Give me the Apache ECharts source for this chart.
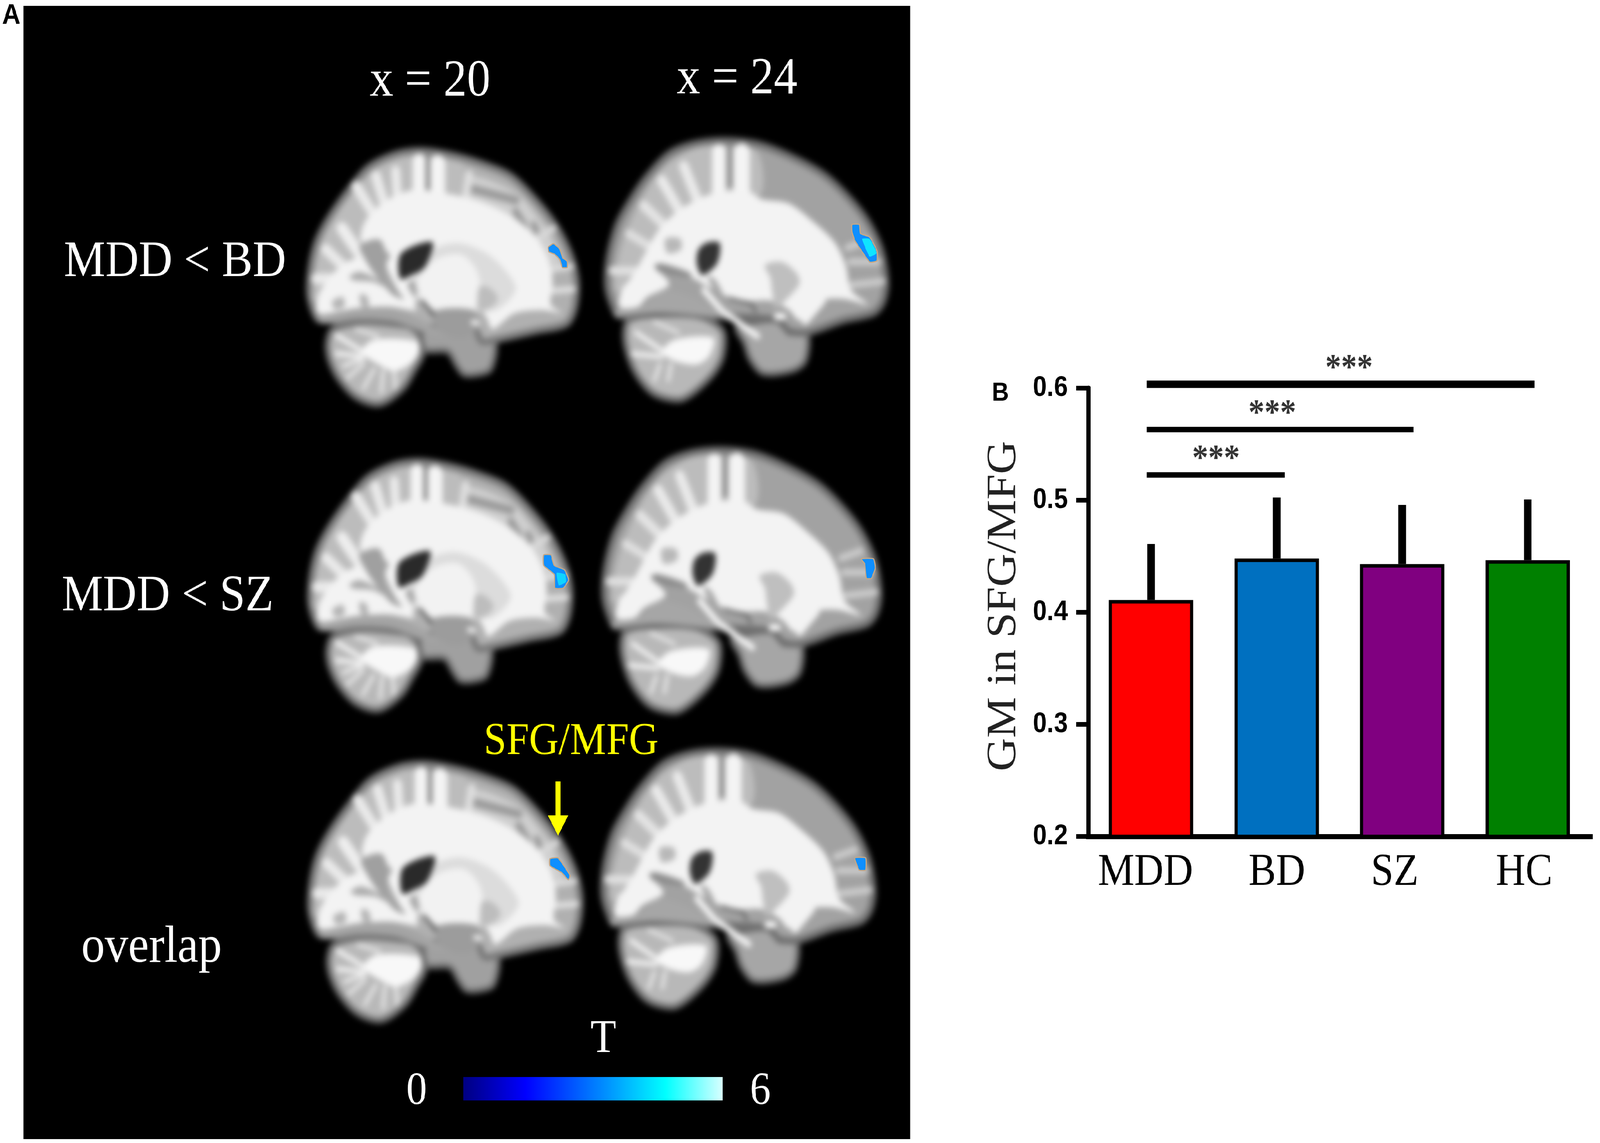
<!DOCTYPE html>
<html>
<head>
<meta charset="utf-8">
<title>GM in SFG/MFG</title>
<script src="https://cdn.jsdelivr.net/npm/echarts@6/dist/echarts.min.js"></script>
<style>
html,body{margin:0;padding:0;background:#fff;overflow:hidden}
#page{position:relative;width:4550px;height:2927px;transform-origin:0 0}
#panel{position:absolute;left:67px;top:15px;width:2521px;height:2902px;background:#000;overflow:hidden}
#brains{position:absolute;left:-67px;top:-15px;width:4550px;height:2927px;filter:blur(8px)}
#main{position:absolute;left:0;top:0;width:4550px;height:2927px}
</style>
</head>
<body>
<div id="page">
  <div id="panel"><div id="brains"></div></div>
  <div id="main"></div>
</div>
<script>
// the browser window can come out narrower than the 4550 asked for, squeeze to fit
document.getElementById('page').style.transform = 'scaleX(' + (window.innerWidth / 4550) + ')';

// bar chart values
var groups = ['MDD', 'BD', 'SZ', 'HC'];
var gmMean = [0.411, 0.448, 0.443, 0.4465];
var gmUpper = [0.461, 0.5024, 0.4958, 0.5007];
var barColors = ['#ff0000', '#0070c0', '#800080', '#008000'];
var yTicks = [0.2, 0.3, 0.4, 0.5, 0.6];
// significance lines: from, to (in category units), height
var sigFrom = [-0.036, -0.036, -0.036];
var sigTo = [3.053, 2.09, 1.064];
var sigY = [0.6035, 0.5631, 0.5226];
var sigWidth = [19, 14, 14];
var sigStarX = [1.576, 0.965, 0.517];

var serif = '"Liberation Serif"';
var sans = '"Liberation Sans"';

// brain slices. layer: [colour, kind, line width, points, rim colour]
var brainLeft = { bounds: [35, 1530, 35, 1495], layers: [
  ['#a0a0a0', 'p', 14, [[700,1050],[960,1040],[990,1100],[1075,1140],[1050,1290],[980,1320],[900,1320],[860,1270],[810,1190],[680,1180],[660,1100]], '#6a6a6a'],
  ['#b8b8b8', 'p', 16, [[140,1140],[170,1060],[350,1020],[560,1030],[650,1090],[670,1200],[620,1300],[560,1400],[430,1490],[300,1450],[200,1340],[150,1230]], '#707070'],
  ['#f4f4f4', 'l', 12, [[340,1190],[190,1095]]],
  ['#f4f4f4', 'l', 12, [[330,1215],[190,1200]]],
  ['#f0f0f0', 'l', 10, [[340,1230],[230,1270]]],
  ['#e4e4e4', 'l', 10, [[420,1100],[300,1060]]],
  ['#e8e8e8', 'l', 10, [[340,1260],[250,1340]]],
  ['#e8e8e8', 'l', 10, [[400,1290],[340,1400]]],
  ['#e8e8e8', 'l', 10, [[450,1300],[440,1420]]],
  ['#e8e8e8', 'l', 10, [[510,1300],[520,1400]]],
  ['#f8f8f8', 'p', 0, [[330,1190],[400,1120],[640,1130],[650,1190],[600,1260],[510,1300],[420,1260]]],
  ['#b0b0b0', 'p', 18, [[85,1000],[40,870],[45,720],[80,560],[150,420],[260,260],[370,130],[520,55],[660,35],[830,60],[1000,110],[1160,180],[1300,320],[1420,480],[1500,650],[1530,800],[1515,950],[1470,1030],[1300,1070],[1080,1120],[1000,1130],[960,1060],[700,1050],[400,1020],[150,1010]], '#7a7a7a'],
  ['#bcbcbc', 'p', 0, [[60,900],[70,720],[130,500],[260,300],[380,170],[520,85],[660,65],[830,90],[900,120],[890,330],[480,320],[320,560],[200,760]]],
  ['#cfcfcf', 'p', 0, [[930,180],[1180,270],[1300,400],[1400,560],[1440,700],[1380,680],[1280,500],[1150,400],[930,310]]],
  ['#9a9a9a', 'l', 22, [[930,250],[1190,320]]],
  ['#9a9a9a', 'l', 20, [[1190,385],[1240,470]]],
  ['#9a9a9a', 'l', 18, [[1290,460],[1320,530]]],
  ['#f4f4f4', 'l', 36, [[650,290],[650,90]]],
  ['#f4f4f4', 'l', 42, [[755,290],[755,105]]],
  ['#888888', 'l', 12, [[700,270],[700,70]]],
  ['#eaeaea', 'l', 26, [[530,320],[520,150]]],
  ['#eaeaea', 'l', 28, [[460,350],[410,180]]],
  ['#eaeaea', 'l', 28, [[410,420],[300,240]]],
  ['#dedede', 'l', 22, [[910,310],[930,170]]],
  ['#eeeeee', 'l', 32, [[340,660],[220,480]]],
  ['#eaeaea', 'l', 28, [[250,720],[130,600]]],
  ['#eaeaea', 'l', 28, [[190,770],[75,770]]],
  ['#d8d8d8', 'l', 18, [[1300,540],[1400,480]]],
  ['#dcdcdc', 'l', 16, [[1370,720],[1500,700]]],
  ['#e0e0e0', 'l', 16, [[1380,840],[1510,830]]],
  ['#f3f3f3', 'p', 0, [[330,560],[350,440],[470,320],[620,260],[800,280],[1000,330],[1180,420],[1310,540],[1380,680],[1395,800],[1385,920],[1445,965],[1330,950],[1180,970],[1060,1060],[1030,1000],[1000,960],[760,950],[680,900],[560,830],[500,720],[480,620]]],
  ['#f3f3f3', 'p', 0, [[85,970],[90,860],[200,710],[320,650],[440,750],[530,860],[640,950],[480,930],[300,940]]],
  ['#f3f3f3', 'l', 34, [[500,690],[600,900]]],
  ['#a0a0a0', 'p', 0, [[320,580],[430,545],[470,640],[470,760],[565,885],[500,860],[400,740],[350,660]]],
  ['#ababab', 'p', 0, [[260,760],[320,730],[450,790],[500,840],[400,790],[290,780]]],
  ['#b4b4b4', 'p', 0, [[165,900],[225,875],[235,930],[180,945]]],
  ['#b4b4b4', 'p', 0, [[320,860],[360,870],[370,930],[330,930]]],
  ['#dcdcdc', 'p', 0, [[620,780],[700,620],[860,565],[1020,620],[1130,720],[1190,830],[1100,940],[1000,960],[740,950],[650,860]]],
  ['#f2f2f2', 'p', 0, [[640,780],[740,660],[880,630],[960,700],[990,800],[950,950],[750,950],[660,860]]],
  ['#bdbdbd', 'p', 0, [[985,820],[1040,820],[1090,880],[1060,930],[985,950]]],
  ['#a8a8a8', 'p', 0, [[585,800],[620,780],[640,860],[620,870]]],
  ['#2a2a2a', 'p', 0, [[550,625],[725,560],[685,700],[620,745],[545,770]]],
  ['#a4a4a4', 'p', 0, [[85,990],[300,945],[520,945],[700,1030],[820,1100],[700,1085],[500,1010],[300,1000],[120,1025]]],
  ['#9c9c9c', 'p', 0, [[730,960],[950,950],[985,1040],[900,1110],[760,1070]]],
  ['#444444', 'l', 6, [[670,900],[730,980]]],
  ['#f6f6f6', 'l', 12, [[950,1020],[975,1025]]]
]};
var brainRight = { bounds: [10, 1530, 45, 1510], layers: [
  ['#a6a6a6', 'p', 14, [[720,1100],[960,1060],[1000,1130],[1100,1140],[1090,1290],[1020,1345],[860,1360],[790,1280],[760,1190]], '#6a6a6a'],
  ['#b8b8b8', 'p', 16, [[110,1170],[130,1060],[300,1030],[520,1040],[640,1120],[640,1260],[590,1360],[480,1470],[400,1510],[260,1470],[160,1340]], '#707070'],
  ['#f4f4f4', 'l', 12, [[310,1230],[170,1130]]],
  ['#f4f4f4', 'l', 12, [[310,1265],[150,1250]]],
  ['#e4e4e4', 'l', 10, [[400,1130],[270,1070]]],
  ['#e8e8e8', 'l', 10, [[300,1310],[270,1400]]],
  ['#e8e8e8', 'l', 10, [[360,1310],[345,1400]]],
  ['#f8f8f8', 'p', 0, [[310,1240],[380,1170],[590,1160],[570,1260],[500,1310],[380,1290]]],
  ['#a2a2a2', 'p', 18, [[60,1020],[15,880],[20,720],[70,520],[150,370],[230,250],[350,120],[480,65],[640,45],[830,65],[1000,130],[1180,230],[1300,340],[1420,490],[1500,660],[1530,850],[1510,960],[1460,1020],[1300,1060],[1100,1130],[1000,1120],[940,1060],[650,1040],[300,1010],[80,1035]], '#707070'],
  ['#bcbcbc', 'p', 0, [[60,900],[70,720],[150,480],[300,220],[480,90],[640,70],[830,110],[840,360],[400,500],[200,800]]],
  ['#f4f4f4', 'l', 38, [[620,340],[620,105]]],
  ['#f4f4f4', 'l', 46, [[745,340],[745,110]]],
  ['#888888', 'l', 12, [[680,300],[680,80]]],
  ['#eaeaea', 'l', 28, [[500,370],[430,190]]],
  ['#eaeaea', 'l', 28, [[400,430],[310,270]]],
  ['#e4e4e4', 'l', 26, [[320,520],[210,410]]],
  ['#e0e0e0', 'l', 22, [[240,640],[130,570]]],
  ['#e0e0e0', 'l', 22, [[170,780],[40,780]]],
  ['#cccccc', 'l', 18, [[1320,650],[1430,610]]],
  ['#cccccc', 'l', 18, [[1335,730],[1490,730]]],
  ['#cccccc', 'l', 18, [[1345,860],[1510,840]]],
  ['#f3f3f3', 'p', 0, [[200,720],[300,540],[430,420],[600,340],[780,330],[850,375],[1000,400],[1130,500],[1250,620],[1310,750],[1340,890],[1430,970],[1300,940],[1180,950],[1060,1060],[1000,1000],[900,950],[780,950],[680,930],[560,870],[450,810],[300,800],[150,880],[100,970],[110,880],[180,760]]],
  ['#f3f3f3', 'p', 0, [[80,985],[110,860],[300,800],[350,860],[230,930],[180,985]]],
  ['#b8b8b8', 'p', 0, [[330,600],[410,600],[415,660],[340,680]]],
  ['#8c8c8c', 'p', 0, [[270,750],[310,740],[460,790],[470,815],[300,790]]],
  ['#bfbfbf', 'p', 0, [[870,750],[960,730],[1040,790],[1060,850],[1000,930],[930,990],[910,900],[900,820]]],
  ['#333333', 'p', 0, [[500,740],[510,660],[560,620],[625,625],[610,740],[530,805]]],
  ['#a8a8a8', 'p', 0, [[560,810],[600,830],[640,910],[600,900]]],
  ['#a6a6a6', 'p', 0, [[250,950],[320,890],[480,930],[590,1000],[640,1040],[300,1015],[60,1035],[60,1005],[180,1000]]],
  ['#f6f6f6', 'l', 16, [[540,890],[640,1010],[830,1150]]],
  ['#555555', 'l', 6, [[680,935],[800,970],[820,1010]]],
  ['#ffffff', 'l', 16, [[935,1040],[970,1040]]],
  ['#f3f3f3', 'l', 22, [[1180,950],[1090,1060]]]
]};
// where each slice sits on the page, and its blue clusters
var slices = [
  { tpl: brainLeft,  box: [878, 1640, 386, 1037],  blobs: [['#0f8fff', [[1559,633],[1574,624],[1592,638],[1600,660],[1613,669],[1613,685],[1599,685],[1592,665],[1577,651],[1561,645]]]] },
  { tpl: brainRight, box: [1725, 2520, 360, 1024], blobs: [['#0f8fff', [[2423,575],[2444,575],[2447,598],[2473,607],[2494,643],[2494,668],[2473,671],[2431,616],[2423,594]]], ['#10e4ff', [[2452,612],[2473,612],[2493,648],[2473,657]]]] },
  { tpl: brainLeft,  box: [881, 1621, 1182, 1820], blobs: [['#0f8fff', [[1546,1421],[1567,1421],[1576,1448],[1605,1459],[1617,1485],[1602,1506],[1578,1506],[1576,1471],[1546,1448]]], ['#10d4ff', [[1583,1467],[1607,1471],[1610,1490],[1589,1499]]]] },
  { tpl: brainRight, box: [1717, 2500, 1152, 1823], blobs: [['#0f8fff', [[2449,1431],[2484,1431],[2489,1455],[2478,1481],[2464,1481],[2459,1444]]]] },
  { tpl: brainLeft,  box: [881, 1650, 1956, 2615], blobs: [['#0f8fff', [[1564,2199],[1587,2197],[1621,2242],[1616,2253],[1598,2235],[1564,2217]]]] },
  { tpl: brainRight, box: [1714, 2483, 1923, 2579], blobs: [['#0f8fff', [[2431,2197],[2462,2197],[2462,2228],[2443,2228]]]] }
];

function placePts(pts, tpl, box) {
  var b = tpl.bounds;
  return pts.map(function (p) {
    return [box[0] + (p[0] - b[0]) / (b[1] - b[0]) * (box[1] - box[0]),
            box[2] + (p[1] - b[2]) / (b[3] - b[2]) * (box[3] - box[2])];
  });
}

var brainShapes = [];
var graphics = [];

slices.forEach(function (s) {
  s.tpl.layers.forEach(function (l) {
    var pts = placePts(l[3], s.tpl, s.box);
    if (l[1] === 'p') {
      brainShapes.push({ type: 'polygon', shape: { points: pts, smooth: 0.3 }, style: { fill: l[0], stroke: l[4] || null, lineWidth: l[2] } });
    } else {
      brainShapes.push({ type: 'polyline', shape: { points: pts }, style: { fill: null, stroke: l[0], lineWidth: l[2], lineCap: 'round' } });
    }
  });
  s.blobs.forEach(function (b) {
    graphics.push({ type: 'polygon', z: 2, shape: { points: b[1], smooth: 0.15 }, style: { fill: b[0], stroke: b[0] === '#0f8fff' ? '#c8a884' : null, lineWidth: 3 } });
  });
});

function label(txt, x, y, size, color, font, weight) {
  graphics.push({ type: 'text', z: 3, x: x, y: y, style: { text: txt, fill: color, font: (weight || 'normal') + ' ' + size + 'px ' + font, textAlign: 'center', textVerticalAlign: 'middle' } });
}
label('A', 32, 41, 72, '#000', sans, 'bold');
label('B', 2845, 1008, 67, '#000', sans, 'bold');
label('x = 20', 1223, 210, 134, '#fff', serif);
label('x = 24', 2096, 204, 134, '#fff', serif);
label('MDD < BD', 498, 672, 132, '#fff', serif);
label('MDD < SZ', 477, 1528, 132, '#fff', serif);
label('overlap', 431, 2428, 133, '#fff', serif);
label('SFG/MFG', 1624, 1901, 116, '#ffff00', serif);
label('T', 1716, 2662, 120, '#fff', serif);
label('0', 1185, 2796, 118, '#fff', serif);
label('6', 2162, 2796, 118, '#fff', serif);

// yellow arrow
graphics.push({ type: 'polygon', z: 3, shape: { points: [[1580,2001],[1594,2001],[1594,2088],[1616,2088],[1587,2140],[1558,2088],[1580,2088]] }, style: { fill: '#ffff00' } });

// T colour bar
graphics.push({ type: 'rect', z: 3, shape: { x: 1317, y: 2758, width: 738, height: 60 },
  style: { fill: new echarts.graphic.LinearGradient(0, 0, 1, 0, [
    { offset: 0, color: '#000080' }, { offset: 0.24, color: '#0000ff' }, { offset: 0.55, color: '#0090ff' },
    { offset: 0.78, color: '#00ffff' }, { offset: 1, color: '#d8ffff' }]) } });

var brainChart = echarts.init(document.getElementById('brains'), null, { devicePixelRatio: 1 });
brainChart.setOption({ animation: false, backgroundColor: 'transparent', graphic: { elements: brainShapes } });

var chart = echarts.init(document.getElementById('main'), null, { devicePixelRatio: 1 });

var option = {
  backgroundColor: 'transparent',
  animation: false,
  graphic: { elements: graphics },
  grid: { left: 3095, top: 994, width: 1428, height: 1148 },
  xAxis: [
    { type: 'category', data: groups, axisTick: { show: false },
      axisLine: { lineStyle: { color: '#000', width: 13, cap: 'square' } },
      axisLabel: { interval: 0, margin: 36, color: '#000', fontFamily: serif, fontSize: 116,
        formatter: function (v) { return '{' + v + '|' + v + '}'; },
        // the names do not sit quite under their bars in the original
        rich: {
          MDD: { padding: [0, 32, 0, 0] },
          BD: { padding: [0, 0, 0, 2] },
          SZ: { padding: [0, 42, 0, 0] },
          HC: { padding: [0, 20, 8, 0] }
        } } },
    { type: 'value', min: -0.5, max: 3.5, show: false }
  ],
  yAxis: {
    type: 'value', min: yTicks[0], max: yTicks[yTicks.length - 1], interval: 0.1,
    name: 'GM in SFG/MFG', nameLocation: 'middle', nameRotate: 90, nameGap: 180,
    nameTextStyle: { color: '#222', fontFamily: serif, fontSize: 118, padding: [0, 0, 0, 32] },
    splitLine: { show: false },
    axisLine: { show: true, onZero: false, lineStyle: { color: '#000', width: 13 } },
    axisTick: { length: 35, lineStyle: { color: '#000', width: 12 } },
    axisLabel: { margin: 58, color: '#000', fontFamily: sans, fontWeight: 'bold', fontSize: 72, padding: [10, 0, 0, 0],
      formatter: function (v) { return v.toFixed(1); } }
  },
  series: [
    { type: 'bar', barWidth: 240, silent: true, z: 2,
      data: gmMean.map(function (v, i) {
        return { value: v, itemStyle: { color: barColors[i], borderColor: '#000', borderWidth: 9 } };
      }) },
    { type: 'custom', silent: true, z: 1,
      data: gmMean.map(function (v, i) { return [i, v, gmUpper[i]]; }),
      renderItem: function (params, api) {
        var a = api.coord([api.value(0), api.value(1)]);
        var b = api.coord([api.value(0), api.value(2)]);
        return { type: 'line', shape: { x1: a[0], y1: a[1], x2: b[0], y2: b[1] }, style: { stroke: '#000', lineWidth: 22 } };
      } },
    { type: 'custom', silent: true, xAxisIndex: 1, clip: false,
      data: sigY.map(function (y, i) { return [sigFrom[i], sigTo[i], y, sigStarX[i], sigWidth[i]]; }),
      renderItem: function (params, api) {
        var a = api.coord([api.value(0), api.value(2)]);
        var b = api.coord([api.value(1), api.value(2)]);
        var c = api.coord([api.value(3), api.value(2)]);
        return { type: 'group', children: [
          { type: 'line', shape: { x1: a[0], y1: a[1], x2: b[0], y2: b[1] }, style: { stroke: '#000', lineWidth: api.value(4) } },
          { type: 'text', x: c[0], y: c[1] - 38, style: { text: '***', fill: '#333', font: 'bold 90px ' + serif, textAlign: 'center', textVerticalAlign: 'middle' } }
        ] };
      } }
  ]
};
chart.setOption(option);
</script>
</body>
</html>
